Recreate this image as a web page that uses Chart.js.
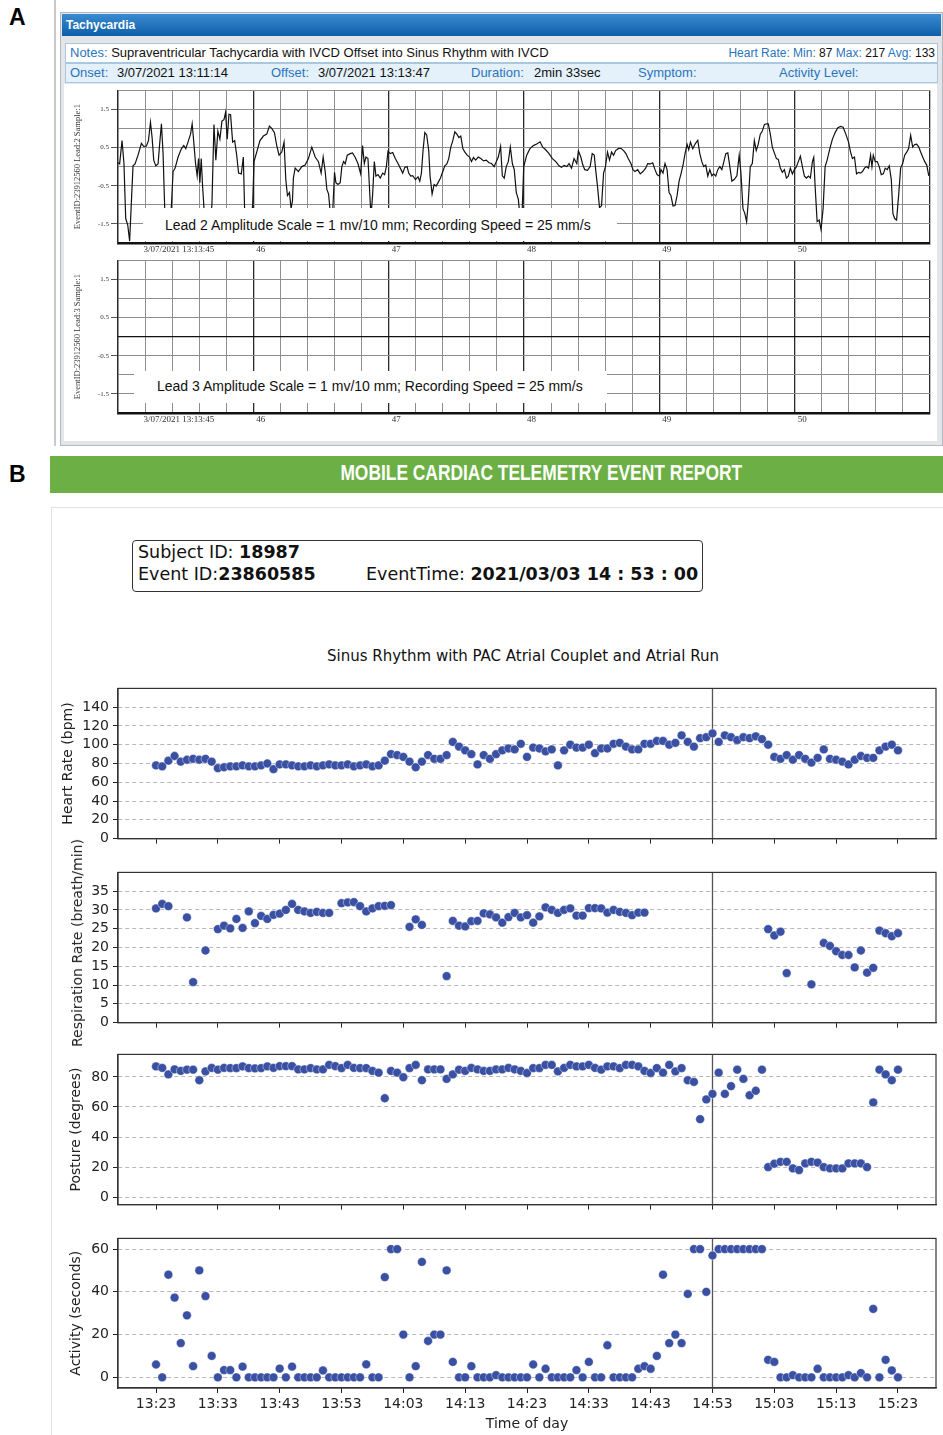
<!DOCTYPE html>
<html>
<head>
<meta charset="utf-8">
<script src="https://cdn.jsdelivr.net/npm/chart.js@4.4.0/dist/chart.umd.min.js"></script>
<style>
    body { margin: 0; width: 943px; height: 1435px; position: relative; overflow: hidden; background: #fff; font-family: "Liberation Sans", Arial, sans-serif; }
    .abs { position: absolute; }
    .panel-letter { position: absolute; font: bold 23px "Liberation Sans", Arial, sans-serif; color: #000; }
    .row { position: absolute; left: 65px; width: 871px; height: 18px; border: 1px solid #a8c8e2; font-size: 13px; line-height: 18px; color: #111; }
    .row span { position: absolute; white-space: nowrap; }
    .k { color: #2b74bd; }
    .ecg-note { position: absolute; background: #fff; font: 14px "Liberation Sans", Arial, sans-serif; color: #111; white-space: nowrap; }
    canvas { position: absolute; }
    .info { position: absolute; left: 132px; top: 540px; width: 569px; height: 50px; border: 1.5px solid #333; border-radius: 4px; font: 17.5px "DejaVu Sans", sans-serif; color: #111; }
    .info div { position: absolute; white-space: nowrap; }
    .ylab { position: absolute; transform: translate(-50%, -50%) rotate(-90deg); white-space: nowrap; font: 14px "DejaVu Sans", sans-serif; color: #222; }
</style>
</head>
<body>

<!-- Panel A: ECG strip -->
<div class="abs" style="left:54px;top:0;width:2px;height:446px;background:#c9c9c9"></div>
<div class="panel-letter" style="left:9px;top:4px">A</div>
<div class="abs" style="left:60px;top:12px;width:881px;height:432px;background:#e3e5e9;border:1px solid #b3b8c0"></div>
<div class="abs" style="left:62px;top:14px;width:879px;height:22px;background:linear-gradient(#3a8bd0,#0d5fa9);color:#fff;font:bold 12px 'Liberation Sans',Arial,sans-serif;line-height:22px;padding-left:4px;box-sizing:border-box">Tachycardia</div>
<div class="row" style="top:43px;background:#fff">
    <span style="left:4px"><span class="k" style="position:static">Notes:</span> Supraventricular Tachycardia with IVCD Offset into Sinus Rhythm with IVCD</span>
    <span style="right:2px;font-size:12px"><span class="k" style="position:static">Heart Rate: Min:</span> 87 <span class="k" style="position:static">Max:</span> 217 <span class="k" style="position:static">Avg:</span> 133</span>
</div>
<div class="row" style="top:63px;background:#e4f0fa">
    <span class="k" style="left:4px">Onset:</span><span style="left:51px">3/07/2021 13:11:14</span>
    <span class="k" style="left:205px">Offset:</span><span style="left:252px">3/07/2021 13:13:47</span>
    <span class="k" style="left:405px">Duration:</span><span style="left:468px">2min 33sec</span>
    <span class="k" style="left:572px">Symptom:</span>
    <span class="k" style="left:713px">Activity Level:</span>
</div>
<div class="abs" style="left:64px;top:84px;width:873px;height:357px;background:#fff"></div>
<canvas id="lead2" width="873" height="176" style="left:64px;top:84px"></canvas>
<canvas id="lead3" width="873" height="172" style="left:64px;top:254px"></canvas>
<div class="ecg-note" style="left:143px;top:208px;width:474px;height:33px;line-height:35px;padding-left:22px;box-sizing:border-box">Lead 2 Amplitude Scale = 1 mv/10 mm; Recording Speed = 25 mm/s</div>
<div class="ecg-note" style="left:134px;top:371px;width:473px;height:32px;line-height:31px;padding-left:23px;box-sizing:border-box">Lead 3 Amplitude Scale = 1 mv/10 mm; Recording Speed = 25 mm/s</div>

<!-- Panel B: telemetry report -->
<div class="panel-letter" style="left:9px;top:461px">B</div>
<div class="abs" style="left:50px;top:456px;width:893px;height:37px;background:#6cb045;text-align:center;line-height:37px">
    <span style="display:inline-block;color:#fff;font:bold 22px 'Liberation Sans',Arial,sans-serif;transform:scaleX(0.79);white-space:nowrap;margin-left:89px">MOBILE CARDIAC TELEMETRY EVENT REPORT</span>
</div>
<div class="abs" style="left:51px;top:507px;width:892px;height:928px;border-left:1px solid #e2e2e2;border-top:1px solid #e2e2e2"></div>
<div class="info">
    <div style="left:5px;top:1px">Subject ID: <b>18987</b></div>
    <div style="left:5px;top:23px">Event ID:<b>23860585</b></div>
    <div style="left:233px;top:23px">EventTime: <b>2021/03/03 14 : 53 : 00</b></div>
</div>
<div class="abs" style="left:52px;top:647px;width:942px;text-align:center;font:15px 'DejaVu Sans',sans-serif;color:#111">Sinus Rhythm with PAC Atrial Couplet and Atrial Run</div>
<canvas id="hrChart" width="891" height="175" style="left:52px;top:676px"></canvas>
<canvas id="rrChart" width="891" height="175" style="left:52px;top:860px"></canvas>
<canvas id="postureChart" width="891" height="175" style="left:52px;top:1042px"></canvas>
<canvas id="activityChart" width="891" height="209" style="left:52px;top:1226px"></canvas>
<!-- longer than its axis, so it is set outside the canvas -->
<div class="ylab" style="left:77px;top:943px">Respiration Rate (breath/min)</div>

<script>
// ---- Panel A: Lead 2 trace, seconds after 13:13:00 and millivolts
const ecgTime = [
    45.000, 45.012, 45.030, 45.044, 45.057, 45.072, 45.086, 45.101, 45.111, 45.126,
    45.148, 45.173, 45.190, 45.210, 45.225, 45.240, 45.252, 45.264, 45.279, 45.296,
    45.309, 45.321, 45.333, 45.346, 45.358, 45.383, 45.395, 45.407, 45.422, 45.444,
    45.469, 45.486, 45.501, 45.519, 45.536, 45.548, 45.560, 45.573, 45.585, 45.595,
    45.605, 45.615, 45.625, 45.637, 45.654, 45.679, 45.694, 45.709, 45.723, 45.738,
    45.753, 45.768, 45.783, 45.795, 45.807, 45.820, 45.832, 45.847, 45.862, 45.877,
    45.891, 45.911, 45.926, 45.936, 45.951, 45.980, 45.995, 46.005, 46.025, 46.049,
    46.074, 46.099, 46.119, 46.136, 46.156, 46.173, 46.190, 46.210, 46.227, 46.240,
    46.252, 46.267, 46.279, 46.289, 46.296, 46.309, 46.333, 46.358, 46.383, 46.407,
    46.432, 46.457, 46.481, 46.501, 46.516, 46.531, 46.543, 46.556, 46.570, 46.585,
    46.600, 46.610, 46.625, 46.642, 46.654, 46.667, 46.679, 46.694, 46.716, 46.733,
    46.753, 46.773, 46.793, 46.807, 46.820, 46.832, 46.847, 46.857, 46.869, 46.881,
    46.894, 46.906, 46.921, 46.938, 46.956, 46.970, 46.983, 46.995, 47.012, 47.030,
    47.049, 47.069, 47.086, 47.104, 47.119, 47.136, 47.148, 47.163, 47.178, 47.198,
    47.217, 47.230, 47.242, 47.254, 47.267, 47.281, 47.296, 47.306, 47.321, 47.336,
    47.351, 47.365, 47.383, 47.400, 47.415, 47.430, 47.444, 47.459, 47.474, 47.489,
    47.504, 47.519, 47.533, 47.548, 47.563, 47.580, 47.598, 47.612, 47.627, 47.642,
    47.662, 47.681, 47.701, 47.721, 47.741, 47.760, 47.780, 47.795, 47.810, 47.827,
    47.840, 47.854, 47.869, 47.884, 47.899, 47.914, 47.928, 47.943, 47.958, 47.970,
    47.985, 47.998, 48.020, 48.044, 48.069, 48.094, 48.119, 48.138, 48.160, 48.185,
    48.210, 48.235, 48.259, 48.277, 48.296, 48.316, 48.333, 48.351, 48.370, 48.390,
    48.402, 48.420, 48.435, 48.449, 48.469, 48.489, 48.504, 48.519, 48.531, 48.543,
    48.558, 48.573, 48.588, 48.602, 48.617, 48.632, 48.647, 48.662, 48.677, 48.696,
    48.716, 48.736, 48.753, 48.770, 48.790, 48.805, 48.820, 48.840, 48.859, 48.879,
    48.899, 48.914, 48.933, 48.951, 48.968, 48.983, 49.000, 49.012, 49.027, 49.042,
    49.057, 49.072, 49.086, 49.101, 49.116, 49.131, 49.146, 49.160, 49.175, 49.190,
    49.205, 49.217, 49.230, 49.247, 49.264, 49.284, 49.299, 49.314, 49.328, 49.343,
    49.358, 49.373, 49.388, 49.402, 49.417, 49.432, 49.447, 49.462, 49.477, 49.491,
    49.506, 49.521, 49.536, 49.553, 49.573, 49.590, 49.603, 49.618, 49.632, 49.645,
    49.657, 49.672, 49.687, 49.702, 49.716, 49.731, 49.746, 49.761, 49.776, 49.790,
    49.805, 49.820, 49.835, 49.850, 49.865, 49.879, 49.894, 49.909, 49.924, 49.939,
    49.953, 49.968, 49.983, 49.998, 50.013, 50.027, 50.042, 50.057, 50.072, 50.087,
    50.102, 50.116, 50.131, 50.141, 50.151, 50.166, 50.181, 50.195, 50.210, 50.225,
    50.240, 50.260, 50.279, 50.299, 50.319, 50.339, 50.358, 50.378, 50.398, 50.413,
    50.427, 50.442, 50.457, 50.472, 50.487, 50.501, 50.516, 50.531, 50.546, 50.561,
    50.571, 50.581, 50.595, 50.610, 50.625, 50.640, 50.655, 50.669, 50.684, 50.699,
    50.714, 50.726, 50.739, 50.753, 50.768, 50.783, 50.798, 50.813, 50.828, 50.842,
    50.857, 50.872, 50.887, 50.902, 50.917, 50.931, 50.946, 50.961, 50.976, 50.991
];
const ecgLead2 = [
    0.10, 0.07, 0.68, 0.08, -1.36, -1.53, -1.95, -0.76, 0.02, 0.07,
    0.30, 0.61, 0.53, 0.54, 0.68, 1.16, 0.76, 0.17, 0.02, 0.07,
    0.64, 1.12, 0.34, -1.19, -1.60, -1.55, -1.00, -0.13, -0.04, 0.25,
    0.47, 0.55, 0.47, 0.66, 0.85, 1.12, 0.64, 0.08, -0.24, 0.21,
    -0.42, 0.21, -0.51, -1.19, -1.60, -1.55, -1.00, 1.10, 0.17, 0.93,
    0.72, 1.19, 1.23, 1.42, 0.72, 1.37, 1.36, 0.64, 0.68, 0.30,
    -0.17, -0.19, 0.25, -1.19, -1.60, -1.55, -1.00, 0.13, 0.38, 0.68,
    0.80, 0.85, 1.06, 1.00, 0.89, 0.55, 0.30, 0.38, 0.64, -0.34,
    -0.76, -0.68, -1.10, -0.90, -0.30, -0.04, -0.13, 0.00, 0.04, 0.21,
    0.51, 0.25, 0.13, -0.17, 0.25, -0.13, -0.59, -0.72, -1.25, -1.30,
    -0.15, -0.42, -0.47, -0.42, 0.00, 0.13, 0.07, 0.30, 0.34, 0.36,
    0.24, 0.08, -0.19, 0.55, 0.08, 0.25, 0.21, -0.47, -1.30, -0.76,
    0.13, -0.25, -0.21, -0.30, -0.17, -0.21, 0.00, 0.40, 0.34, 0.37,
    0.21, 0.08, -0.04, -0.17, -0.02, 0.00, -0.17, -0.25, -0.24, -0.34,
    -0.27, -0.38, -0.17, 0.42, 0.89, 0.83, 0.42, -0.25, -0.72, -0.47,
    -0.51, -0.42, -0.30, -0.13, 0.02, 0.07, 0.21, 0.51, 0.68, 0.91,
    0.85, 0.76, 0.80, 0.47, 0.38, 0.30, 0.25, 0.13, 0.24, 0.17,
    0.25, 0.21, 0.15, 0.17, 0.10, 0.08, 0.00, 0.13, 0.25, 0.53,
    -0.24, -0.30, 0.00, 0.13, 0.51, 0.08, -0.08, -0.68, -0.85, -1.30,
    -1.30, 0.00, 0.30, 0.47, 0.55, 0.59, 0.65, 0.51, 0.44, 0.34,
    0.21, 0.13, 0.02, -0.02, 0.03, 0.00, 0.08, -0.04, 0.21, 0.08,
    0.41, 0.25, 0.04, -0.08, -0.10, 0.00, 0.34, 0.30, -0.13, -0.51,
    -1.08, -1.02, -0.17, 0.00, 0.38, 0.17, 0.38, 0.30, 0.42, 0.47,
    0.48, 0.42, 0.34, 0.21, 0.08, -0.08, -0.13, -0.08, -0.19, -0.13,
    -0.04, 0.08, 0.07, 0.10, -0.08, -0.21, -0.25, -0.08, -0.17, 0.08,
    -0.07, -0.68, -0.76, -1.03, -1.02, -0.76, -0.38, -0.19, 0.04, 0.34,
    0.58, 0.44, 0.64, 0.47, 0.59, 0.69, 0.34, 0.13, 0.00, 0.04,
    -0.25, -0.08, -0.24, -0.19, -0.25, -0.08, 0.00, -0.08, 0.13, 0.34,
    0.36, 0.00, -0.38, -0.34, -0.24, 0.30, -0.17, -1.10, -1.23, -1.44,
    -0.93, 0.00, 0.08, 0.68, 0.42, 0.59, 0.85, 0.93, 1.10, 1.12,
    1.12, 0.85, 0.51, 0.36, 0.21, 0.19, -0.04, -0.15, -0.08, -0.30,
    -0.25, -0.04, -0.19, -0.08, 0.00, 0.13, 0.27, 0.00, -0.25, -0.30,
    -0.25, -0.30, 0.13, 0.24, -0.51, -1.44, -1.40, -1.65, -1.10, 0.00,
    0.17, 0.47, 0.72, 0.89, 1.02, 1.05, 1.03, 0.85, 0.64, 0.38,
    0.21, 0.25, -0.19, -0.15, -0.17, -0.13, -0.04, 0.00, -0.04, 0.30,
    0.00, 0.30, 0.13, 0.13, 0.00, -0.21, -0.19, -0.04, -0.08, 0.02,
    -0.34, -1.23, -1.36, -1.40, -0.76, -0.04, 0.08, 0.30, 0.38, 0.47,
    0.82, 0.51, 0.58, 0.59, 0.51, 0.38, 0.25, 0.13, 0.04, -0.24
];
// Lead 3 carries no signal: a flat trace at 0 mV
const lead3Time = [45, 51];
const lead3Mv = [0, 0];

const ecgSecondLabels = ['3/07/2021 13:13:45', '46', '47', '48', '49', '50'];
const ecgAmplitudeLabels = ['1.5', '0.5', '-0.5', '-1.5'];

// ---- Panel B: one reading per minute from 13:23 to 15:23
const heartRate = [
    78, 77, 83, 88, 82, 84, 85, 84, 85, 82,
    75, 76, 77, 77, 78, 77, 77, 78, 80, 74,
    79, 79, 78, 77, 77, 78, 77, 78, 79, 78,
    78, 79, 77, 78, 79, 77, 78, 83, 90, 89,
    87, 82, 76, 82, 89, 85, 85, 89, 103, 98,
    94, 90, 79, 89, 85, 90, 94, 96, 95, 101,
    87, 97, 96, 93, 95, 78, 94, 100, 97, 97,
    100, 91, 96, 96, 101, 102, 98, 95, 95, 101,
    101, 104, 104, 100, 102, 110, 103, 98, 107, 108,
    112, 103, 110, 108, 105, 108, 107, 109, 106, 100,
    87, 85, 89, 84, 89, 85, 81, 86, 95, 85,
    84, 82, 79, 84, 88, 86, 86, 94, 98, 100,
    94
];
const respirationRate = [
    30.4, 31.6, 31, null, null, 28, 10.8, null, 19.2, null,
    24.9, 25.8, 25.1, 27.6, 25.2, 29.6, 26.5, 28.4, 27.6, 28.7,
    29, 30, 31.6, 30, 29.6, 29.2, 29.5, 29.2, 29.2, null,
    31.8, 32, 32.1, 31, 29.6, 30.4, 31, 31.1, 31.3, null,
    null, 25.5, 27.5, 26, null, null, null, 12.4, 27.1, 25.8,
    25.6, 27, 27.1, 29.1, 28.8, 28, 26.6, 28.1, 29.2, 28,
    28.6, 26.6, 28.3, 30.7, 30, 29.2, 30, 30.4, 28.5, 28.5,
    30.5, 30.5, 30.4, 29.3, 30, 29.5, 29.2, 28.6, 29.3, 29.3,
    null, null, null, null, null, null, null, null, null, null,
    null, null, null, null, null, null, null, null, null, 24.9,
    23.2, 24.2, 13.2, null, null, null, 10.2, null, 21.2, 20.4,
    19, 18, 18, 14.7, 19.2, 13.3, 14.6, 24.5, 23.8, 23,
    23.8
];
const posture = [
    87, 86, 81.7, 85, 84, 84.8, 84.8, 77.8, 83.7, 86,
    84.8, 86, 85.9, 85.9, 87, 85.9, 85.7, 85.9, 87, 86,
    87.2, 87.2, 87.2, 85, 85, 85.9, 85, 85, 88, 87.2,
    85.9, 88, 86, 85.9, 85.9, 84, 82.8, 65.8, 84, 82.8,
    79.8, 85.9, 88, 77.8, 85, 85, 85, 78.7, 81.7, 84.8,
    84, 86, 85, 84, 84, 85, 85, 86, 85, 84,
    82.6, 85.9, 85.9, 88, 88, 83.7, 86, 88, 87, 87,
    88, 86, 84.8, 87, 87, 85.9, 88, 88, 87, 84,
    82.6, 85.9, 82.8, 88, 83.7, 85.9, 77.8, 76.7, 51.9, 65,
    68.7, 82.8, 68.7, 73.9, 84.8, 78.7, 67.8, 70.8, 84.8, 20,
    22.2, 23.5, 23.5, 19.1, 18, 22.4, 23.5, 23, 20, 19.1,
    19.1, 19.1, 22.4, 22.4, 22.4, 20, 63, 84.8, 81.7, 77.8,
    84.8
];
const activity = [
    6, 0, 48, 37.3, 16, 29, 5.2, 50, 38, 10,
    0, 3.4, 3.4, 0, 5, 0, 0, 0, 0, 0,
    4.1, 0, 5, 0, 0, 0, 0, 3.2, 0, 0,
    0, 0, 0, 0, 6.1, 0, 0, 46.9, 60, 60,
    20, 0, 5.2, 54, 17, 20, 20, 50, 7.2, 0,
    0, 5.2, 0, 0, 0, 1, 0, 0, 0, 0,
    0, 6, 0, 4, 0, 0, 0, 0, 3.4, 0,
    7.2, 0, 0, 15, 0, 0, 0, 0, 4, 5.2,
    4, 10, 48, 16, 20, 16, 39, 60, 60, 40,
    57, 60, 60, 60, 60, 60, 60, 60, 60, 8.2,
    7.2, 0, 0, 1, 0, 0, 0, 4, 0, 0,
    0, 0, 1, 0, 2, 0, 32, 0, 8.2, 3.2,
    0
];
// minutes after 13:23
const timeTickMinutes = [0, 10, 20, 30, 40, 50, 60, 70, 80, 90, 100, 110, 120];
const timeTickLabels = ['13:23', '13:33', '13:43', '13:53', '14:03', '14:13', '14:23',
    '14:33', '14:43', '14:53', '15:03', '15:13', '15:23'];
const eventMinute = 90; // EventTime 14:53

const heartRateTicks = [0, 20, 40, 60, 80, 100, 120, 140];
const respirationTicks = [0, 5, 10, 15, 20, 25, 30, 35];
const postureTicks = [0, 20, 40, 60, 80];
const activityTicks = [0, 20, 40, 60];

Chart.defaults.font.family = '"DejaVu Sans", sans-serif';
Chart.defaults.color = '#222';
Chart.defaults.plugins.legend.display = false;
Chart.defaults.plugins.tooltip.enabled = false;

const isWhole = v => Math.abs(v - Math.round(v)) < 1e-6;
const ecgFont = { family: '"Liberation Serif", serif', size: 9 };

function createEcgChart(id, times, volts, title, xAxisHeight) {
    return new Chart(document.getElementById(id), {
        type: 'line',
        data: {
            datasets: [{
                data: times.map((t, i) => ({ x: t, y: volts[i] })),
                borderColor: '#111',
                borderWidth: 1.2,
                pointRadius: 0,
                tension: 0
            }]
        },
        options: {
            responsive: false,
            animation: false,
            devicePixelRatio: 1,
            events: [],
            layout: { padding: { top: 2, right: 7 } },
            scales: {
                x: {
                    type: 'linear',
                    min: 45,
                    max: 51,
                    afterFit: scale => { scale.height = xAxisHeight; },
                    ticks: {
                        stepSize: 0.2,
                        autoSkip: false,
                        maxRotation: 0,
                        align: 'start',
                        padding: 1,
                        labelOffset: 3,
                        font: ecgFont,
                        color: '#333',
                        callback: value => {
                            if (!isWhole(value) || value > 50.5) return '';
                            const label = ecgSecondLabels[Math.round(value) - 45];
                            // the date label sits a little right of the first line
                            return Math.round(value) === 45 ? '          ' + label : label;
                        }
                    },
                    grid: {
                        color: ctx => isWhole(ctx.tick.value) ? '#2a2a2a' : '#8e8e8e',
                        lineWidth: ctx => isWhole(ctx.tick.value) ? 1.3 : 1,
                        drawTicks: false
                    },
                    border: { color: '#111', width: 2.5 }
                },
                y: {
                    min: -2,
                    max: 2,
                    afterFit: scale => { scale.width = 54; },
                    ticks: {
                        stepSize: 0.5,
                        padding: 2,
                        font: { family: '"Liberation Serif", serif', size: 7 },
                        color: '#333',
                        callback: value => {
                            const s = value.toFixed(1);
                            return ecgAmplitudeLabels.includes(s) ? s : '';
                        }
                    },
                    grid: {
                        color: '#8e8e8e',
                        tickLength: 7,
                        tickColor: ctx => ecgAmplitudeLabels.includes(ctx.tick.value.toFixed(1)) ? '#555' : 'rgba(0,0,0,0)'
                    },
                    border: { color: '#2a2a2a', width: 1.3 },
                    title: {
                        display: true,
                        text: title,
                        font: { family: '"Liberation Serif", serif', size: 8.5 },
                        color: '#333',
                        padding: { top: 9, bottom: 0 }
                    }
                }
            }
        }
    });
}

createEcgChart('lead2', ecgTime, ecgLead2, 'EventID:23912560 Lead:2 Sample:1', 17);
createEcgChart('lead3', lead3Time, lead3Mv, 'EventID:23912560 Lead:3 Sample:1', 13);

// Vertical marker at the event time
const eventLine = {
    id: 'eventLine',
    beforeDatasetsDraw(chart) {
        const { ctx, chartArea } = chart;
        const x = chart.scales.x.getPixelForValue(eventMinute);
        ctx.save();
        ctx.strokeStyle = '#555';
        ctx.lineWidth = 1.3;
        ctx.beginPath();
        ctx.moveTo(x, chartArea.top);
        ctx.lineTo(x, chartArea.bottom);
        ctx.stroke();
        ctx.restore();
    }
};

// Box around the plot area, like matplotlib spines
const frame = {
    id: 'frame',
    afterDraw(chart) {
        const { ctx, chartArea } = chart;
        ctx.save();
        ctx.strokeStyle = '#333';
        ctx.lineWidth = 1.2;
        ctx.strokeRect(chartArea.left, chartArea.top, chartArea.right - chartArea.left, chartArea.bottom - chartArea.top);
        ctx.restore();
    }
};

function createVitalsChart(id, values, yLabel, yMin, yMax, yTicks, showTime, labelPad) {
    return new Chart(document.getElementById(id), {
        type: 'scatter',
        data: {
            datasets: [{
                data: values.map((v, i) => ({ x: i, y: v })),
                pointRadius: 4.4,
                backgroundColor: '#3a50a3',
                borderColor: 'rgba(255,255,255,0.7)',
                borderWidth: 0.6
            }]
        },
        options: {
            responsive: false,
            animation: false,
            devicePixelRatio: 1,
            events: [],
            layout: { padding: { top: 10, right: 7 } },
            scales: {
                x: {
                    type: 'linear',
                    min: -6.15,
                    max: 126.15,
                    afterBuildTicks: scale => { scale.ticks = timeTickMinutes.map(v => ({ value: v })); },
                    afterFit: scale => { scale.height = showTime ? 47 : 12; },
                    ticks: {
                        display: showTime,
                        autoSkip: false,
                        maxRotation: 0,
                        padding: 3,
                        font: { size: 14 },
                        callback: (value, index) => timeTickLabels[index]
                    },
                    grid: { drawOnChartArea: false, tickLength: 5, tickColor: '#222' },
                    border: { color: '#333', width: 1.2 },
                    title: {
                        display: showTime,
                        text: 'Time of day',
                        font: { size: 14 },
                        padding: { top: 0, bottom: 2 }
                    }
                },
                y: {
                    min: yMin,
                    max: yMax,
                    afterBuildTicks: scale => { scale.ticks = yTicks.map(v => ({ value: v })); },
                    afterFit: scale => { scale.width = 66; },
                    ticks: { padding: 4, font: { size: 14 }, callback: value => String(value) },
                    grid: { color: '#b9b9b9', tickLength: 5, tickColor: '#222' },
                    border: { color: '#333', width: 1.2, dash: [4, 3] },
                    title: {
                        display: yLabel !== '',
                        text: yLabel,
                        font: { size: 14 },
                        padding: { top: labelPad, bottom: 0 }
                    }
                }
            }
        },
        plugins: [eventLine, frame]
    });
}

createVitalsChart('hrChart', heartRate, 'Heart Rate (bpm)', 0, 160, heartRateTicks, false, 8);
createVitalsChart('rrChart', respirationRate, '', 0, 40, respirationTicks, false, 0);
createVitalsChart('postureChart', posture, 'Posture (degrees)', -5, 95, postureTicks, false, 16);
createVitalsChart('activityChart', activity, 'Activity (seconds)', -5, 65, activityTicks, true, 16);
</script>
</body>
</html>
